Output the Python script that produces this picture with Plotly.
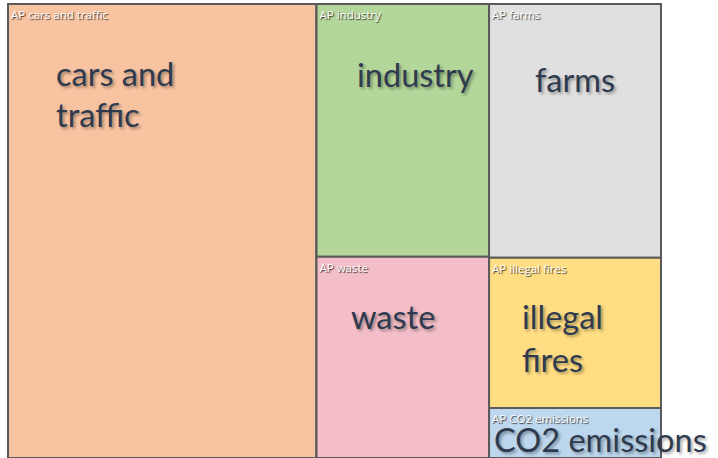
import plotly.graph_objects as go

# ---- data ----
ids = ["all", "cars", "colA", "colB", "industry", "waste", "farms", "fires", "co2"]
parents = ["", "all", "all", "all", "colA", "colA", "colB", "colB", "colB"]
values = [0, 47.2, 0, 0, 14.7, 11.7, 14.7, 8.7, 2.9]
tile_labels = ["", "AP cars and traffic", "", "", "AP industry", "AP waste",
               "AP farms", "AP illegal fires", "AP CO2 emissions"]
colors = ["#FFFFFF", "#F8C3A0", "#FFFFFF", "#FFFFFF", "#B3D69A", "#F3BEC7",
          "#E0E0E0", "#FFDE83", "#BDD7EE"]

# overlay captions (slide text) : text, left px, baseline px
captions = [
    ("cars and", 54, 85),
    ("traffic", 54, 126),
    ("industry", 355, 86),
    ("farms", 533, 91),
    ("waste", 349, 328),
    ("illegal", 520, 328),
    ("fires", 520, 371),
    ("CO2 emissions", 492, 451),
]

W, H = 718, 458
ML, MR, MT, MB = 8, 57, 4, 0
pw, ph = W - ML - MR, H - MT - MB

fig = go.Figure(go.Treemap(
    ids=ids,
    labels=ids,
    parents=parents,
    values=values,
    branchvalues="remainder",
    sort=False,
    text=tile_labels,
    texttemplate="%{text}",
    textposition="top left",
    textfont=dict(family="Open Sans", size=11.5, color="#FFFFFF",
                  shadow="1px 1px 1px rgba(0,0,0,0.75)"),
    hoverinfo="skip",
    tiling=dict(packing="slice-dice", pad=0),
    pathbar=dict(visible=False),
    marker=dict(colors=colors, line=dict(color="#5A5A5A", width=2),
                pad=dict(t=0, l=0, r=0, b=0)),
    root=dict(color="#FFFFFF"),
))

for txt, px, base in captions:
    size = 32.5
    cy = base - 0.34 * size
    fig.add_annotation(
        x=(px - ML) / pw, y=(H - MB - cy) / ph,
        xref="paper", yref="paper", xanchor="left", yanchor="middle",
        text=txt, showarrow=False,
        font=dict(family="Lato", size=size, color="#2E3B4F",
                  shadow="2px 2px 3px rgba(0,0,0,0.35)"),
    )

fig.update_layout(
    width=W, height=H,
    margin=dict(l=ML, r=MR, t=MT, b=MB),
    paper_bgcolor="#FFFFFF",
    showlegend=False,
)

fig.write_html("out.html", config={"displayModeBar": False},
               post_script="document.body.style.margin='0';document.body.style.overflow='hidden';")
